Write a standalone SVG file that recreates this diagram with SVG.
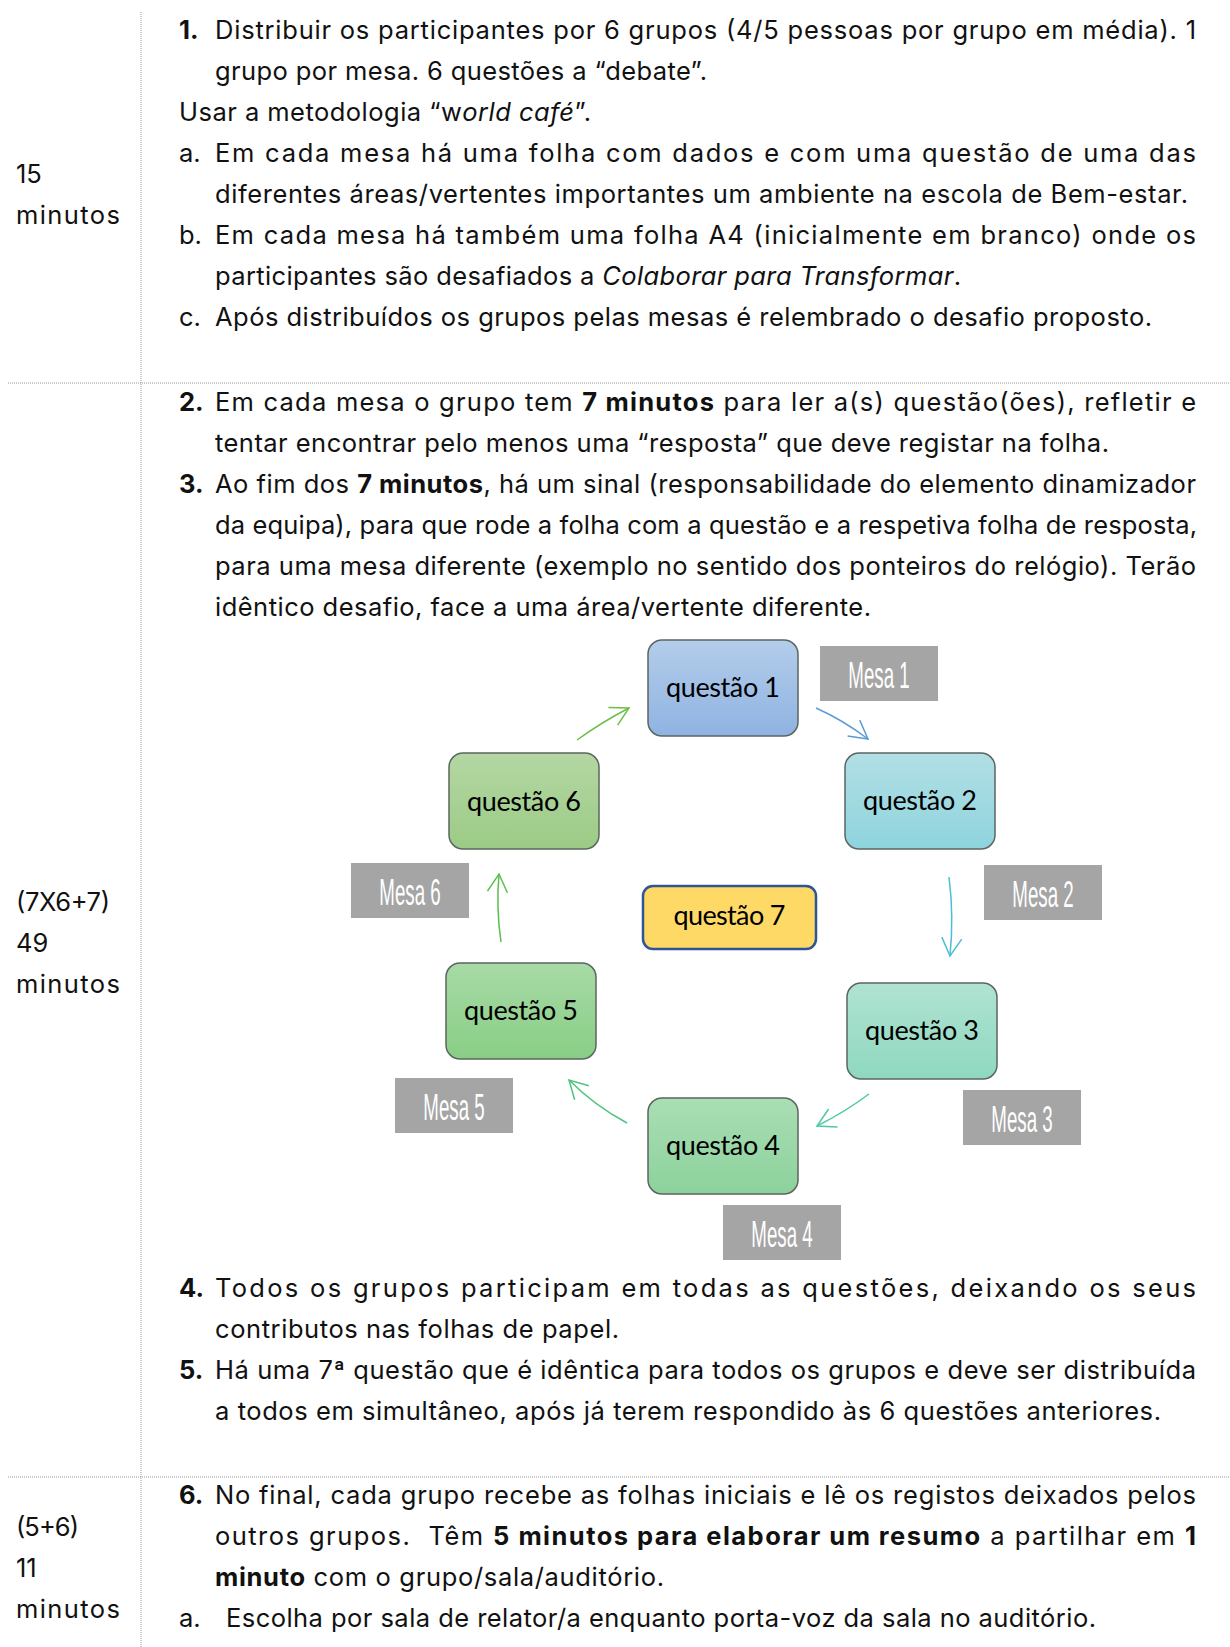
<svg xmlns="http://www.w3.org/2000/svg" width="1230" height="1647" viewBox="0 0 1230 1647">
<defs>
<style>
.t{font-family:Inter,"Liberation Sans",Arial,sans-serif;font-size:25.5px;fill:#111;}
.b{font-weight:700;}
.i{font-style:italic;}
.grid{stroke:#9a9a9a;stroke-width:1;stroke-dasharray:1 1;fill:none;}
.q{stroke:#5c6660;stroke-width:1.5;}
.qt{font-family:Lato,"Liberation Sans",sans-serif;font-size:27px;fill:#000;text-anchor:middle;}
.m{fill:#a5a5a5;}
.mt{font-family:"Liberation Sans",Arial,sans-serif;font-size:36px;fill:#fff;text-anchor:middle;}
.c{fill:none;stroke-width:1.5;}
</style>
<linearGradient id="g1" x1="0" y1="0" x2="0" y2="1"><stop offset="0" stop-color="#b3cdea"/><stop offset="1" stop-color="#8fb3e2"/></linearGradient>
<linearGradient id="g2" x1="0" y1="0" x2="0" y2="1"><stop offset="0" stop-color="#b2dfe5"/><stop offset="1" stop-color="#8ed4dd"/></linearGradient>
<linearGradient id="g3" x1="0" y1="0" x2="0" y2="1"><stop offset="0" stop-color="#b0e3d1"/><stop offset="1" stop-color="#8fd8bf"/></linearGradient>
<linearGradient id="g4" x1="0" y1="0" x2="0" y2="1"><stop offset="0" stop-color="#aadeb4"/><stop offset="1" stop-color="#8cd29c"/></linearGradient>
<linearGradient id="g5" x1="0" y1="0" x2="0" y2="1"><stop offset="0" stop-color="#a8daa5"/><stop offset="1" stop-color="#88ce86"/></linearGradient>
<linearGradient id="g6" x1="0" y1="0" x2="0" y2="1"><stop offset="0" stop-color="#b4d7a3"/><stop offset="1" stop-color="#9ccb86"/></linearGradient>
<marker id="a1" markerUnits="userSpaceOnUse" markerWidth="26" markerHeight="30" viewBox="-22 -15 26 30" refX="0" refY="0" orient="auto"><path d="M-18,-10 L0,0 L-18,10" fill="none" stroke="#6dbe4b" stroke-width="1.5"/></marker>
<marker id="a2" markerUnits="userSpaceOnUse" markerWidth="26" markerHeight="30" viewBox="-22 -15 26 30" refX="0" refY="0" orient="auto"><path d="M-18,-10 L0,0 L-18,10" fill="none" stroke="#5b9bd5" stroke-width="1.5"/></marker>
<marker id="a3" markerUnits="userSpaceOnUse" markerWidth="26" markerHeight="30" viewBox="-22 -15 26 30" refX="0" refY="0" orient="auto"><path d="M-18,-10 L0,0 L-18,10" fill="none" stroke="#4bbfd3" stroke-width="1.5"/></marker>
<marker id="a4" markerUnits="userSpaceOnUse" markerWidth="26" markerHeight="30" viewBox="-22 -15 26 30" refX="0" refY="0" orient="auto"><path d="M-18,-10 L0,0 L-18,10" fill="none" stroke="#4dc9a5" stroke-width="1.5"/></marker>
<marker id="a5" markerUnits="userSpaceOnUse" markerWidth="26" markerHeight="30" viewBox="-22 -15 26 30" refX="0" refY="0" orient="auto"><path d="M-18,-10 L0,0 L-18,10" fill="none" stroke="#4cc47c" stroke-width="1.5"/></marker>
<marker id="a6" markerUnits="userSpaceOnUse" markerWidth="26" markerHeight="30" viewBox="-22 -15 26 30" refX="0" refY="0" orient="auto"><path d="M-18,-10 L0,0 L-18,10" fill="none" stroke="#5abf4e" stroke-width="1.5"/></marker>
</defs>
<rect width="1230" height="1647" fill="#fff"/>

<g id="table-grid">
<line class="grid" x1="141" y1="12" x2="141" y2="1647"/>
<line class="grid" x1="8" y1="383" x2="1230" y2="383"/>
<line class="grid" x1="8" y1="1477" x2="1230" y2="1477"/>
</g>

<g id="time-column" class="t">
<text x="16" y="183">15</text>
<text x="16" y="224" textLength="104" lengthAdjust="spacing">minutos</text>
<text x="16" y="911" textLength="94" lengthAdjust="spacing">(7X6+7)</text>
<text x="16" y="952">49</text>
<text x="16" y="993" textLength="104" lengthAdjust="spacing">minutos</text>
<text x="16" y="1536" textLength="63" lengthAdjust="spacing">(5+6)</text>
<text x="16" y="1577">11</text>
<text x="16" y="1618" textLength="104" lengthAdjust="spacing">minutos</text>
</g>

<g id="steps-text" class="t">
<text x="179" y="39" class="b">1.</text>
<text x="215" y="39" textLength="981" lengthAdjust="spacing">Distribuir os participantes por 6 grupos (4/5 pessoas por grupo em média). 1</text>
<text x="215" y="80" textLength="492" lengthAdjust="spacing">grupo por mesa. 6 questões a “debate”.</text>
<text x="179" y="121" textLength="412" lengthAdjust="spacing">Usar a metodologia “w<tspan class="i">orld café</tspan>”.</text>
<text x="179" y="162">a.</text>
<text x="215" y="162" textLength="981" lengthAdjust="spacing">Em cada mesa há uma folha com dados e com uma questão de uma das</text>
<text x="215" y="203" textLength="973" lengthAdjust="spacing">diferentes áreas/vertentes importantes um ambiente na escola de Bem-estar.</text>
<text x="179" y="244">b.</text>
<text x="215" y="244" textLength="981" lengthAdjust="spacing">Em cada mesa há também uma folha A4 (inicialmente em branco) onde os</text>
<text x="215" y="285" textLength="746" lengthAdjust="spacing">participantes são desafiados a <tspan class="i">Colaborar para Transformar</tspan>.</text>
<text x="179" y="326">c.</text>
<text x="215" y="326" textLength="937" lengthAdjust="spacing">Após distribuídos os grupos pelas mesas é relembrado o desafio proposto.</text>

<text x="179" y="411" class="b">2.</text>
<text x="215" y="411" textLength="981" lengthAdjust="spacing">Em cada mesa o grupo tem <tspan class="b">7 minutos</tspan> para ler a(s) questão(ões), refletir e</text>
<text x="215" y="452" textLength="894" lengthAdjust="spacing">tentar encontrar pelo menos uma “resposta” que deve registar na folha.</text>
<text x="179" y="493" class="b">3.</text>
<text x="215" y="493" textLength="981" lengthAdjust="spacing">Ao fim dos <tspan class="b">7 minutos</tspan>, há um sinal (responsabilidade do elemento dinamizador</text>
<text x="215" y="534" textLength="982" lengthAdjust="spacing">da equipa), para que rode a folha com a questão e a respetiva folha de resposta,</text>
<text x="215" y="575" textLength="981" lengthAdjust="spacing">para uma mesa diferente (exemplo no sentido dos ponteiros do relógio). Terão</text>
<text x="215" y="616" textLength="656" lengthAdjust="spacing">idêntico desafio, face a uma área/vertente diferente.</text>

<text x="179" y="1297" class="b">4.</text>
<text x="215" y="1297" textLength="981" lengthAdjust="spacing">Todos os grupos participam em todas as questões, deixando os seus</text>
<text x="215" y="1338" textLength="404" lengthAdjust="spacing">contributos nas folhas de papel.</text>
<text x="179" y="1379" class="b">5.</text>
<text x="215" y="1379" textLength="981" lengthAdjust="spacing">Há uma 7ª questão que é idêntica para todos os grupos e deve ser distribuída</text>
<text x="215" y="1420" textLength="946" lengthAdjust="spacing">a todos em simultâneo, após já terem respondido às 6 questões anteriores.</text>

<text x="179" y="1504" class="b">6.</text>
<text x="215" y="1504" textLength="981" lengthAdjust="spacing">No final, cada grupo recebe as folhas iniciais e lê os registos deixados pelos</text>
<text x="215" y="1545" textLength="981" lengthAdjust="spacing" xml:space="preserve">outros grupos.  Têm <tspan class="b">5 minutos para elaborar um resumo</tspan> a partilhar em <tspan class="b">1</tspan></text>
<text x="215" y="1586" textLength="449" lengthAdjust="spacing"><tspan class="b">minuto</tspan> com o grupo/sala/auditório.</text>
<text x="179" y="1627">a.</text>
<text x="226" y="1627" textLength="870" lengthAdjust="spacing">Escolha por sala de relator/a enquanto porta-voz da sala no auditório.</text>
</g>

<g id="connectors">
<path class="c" stroke="#6dbe4b" d="M577,740 Q602,722 629,708" marker-end="url(#a1)"/>
<path class="c" stroke="#5b9bd5" d="M816,708 Q843,720 868,739" marker-end="url(#a2)"/>
<path class="c" stroke="#4bbfd3" d="M949,877 Q954,916 950,956" marker-end="url(#a3)"/>
<path class="c" stroke="#4dc9a5" d="M869,1094 Q845,1112 817,1126" marker-end="url(#a4)"/>
<path class="c" stroke="#4cc47c" d="M627,1123 Q595,1106 569,1080" marker-end="url(#a5)"/>
<path class="c" stroke="#5abf4e" d="M501,942 Q496,908 499,874" marker-end="url(#a6)"/>
</g>

<g id="q1"><rect class="q" x="648" y="640" width="150" height="96" rx="14" fill="url(#g1)"/><text class="qt" x="723" y="697" textLength="114" lengthAdjust="spacing">questão 1</text></g>
<g id="q2"><rect class="q" x="845" y="753" width="150" height="96" rx="14" fill="url(#g2)"/><text class="qt" x="920" y="810" textLength="114" lengthAdjust="spacing">questão 2</text></g>
<g id="q3"><rect class="q" x="847" y="983" width="150" height="96" rx="14" fill="url(#g3)"/><text class="qt" x="922" y="1040" textLength="114" lengthAdjust="spacing">questão 3</text></g>
<g id="q4"><rect class="q" x="648" y="1098" width="150" height="96" rx="14" fill="url(#g4)"/><text class="qt" x="723" y="1155" textLength="114" lengthAdjust="spacing">questão 4</text></g>
<g id="q5"><rect class="q" x="446" y="963" width="150" height="96" rx="14" fill="url(#g5)"/><text class="qt" x="521" y="1020" textLength="114" lengthAdjust="spacing">questão 5</text></g>
<g id="q6"><rect class="q" x="449" y="753" width="150" height="96" rx="14" fill="url(#g6)"/><text class="qt" x="524" y="811" textLength="114" lengthAdjust="spacing">questão 6</text></g>
<g id="q7"><rect x="643" y="886" width="173" height="63" rx="10" fill="#ffd966" stroke="#2f5597" stroke-width="2.5"/><text class="qt" x="729.5" y="925" textLength="112" lengthAdjust="spacing">questão 7</text></g>

<g id="mesa1"><rect class="m" x="820" y="646" width="118" height="55"/><text class="mt" transform="translate(879,688) scale(0.52,1)">Mesa 1</text></g>
<g id="mesa2"><rect class="m" x="984" y="865" width="118" height="55"/><text class="mt" transform="translate(1043,907) scale(0.52,1)">Mesa 2</text></g>
<g id="mesa3"><rect class="m" x="963" y="1090" width="118" height="55"/><text class="mt" transform="translate(1022,1132) scale(0.52,1)">Mesa 3</text></g>
<g id="mesa4"><rect class="m" x="723" y="1205" width="118" height="55"/><text class="mt" transform="translate(782,1247) scale(0.52,1)">Mesa 4</text></g>
<g id="mesa5"><rect class="m" x="395" y="1078" width="118" height="55"/><text class="mt" transform="translate(454,1120) scale(0.52,1)">Mesa 5</text></g>
<g id="mesa6"><rect class="m" x="351" y="863" width="118" height="55"/><text class="mt" transform="translate(410,905) scale(0.52,1)">Mesa 6</text></g>
</svg>
